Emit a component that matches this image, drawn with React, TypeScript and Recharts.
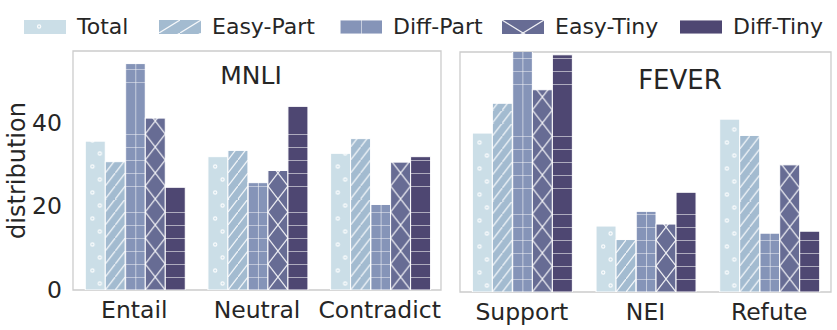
import { Bar, BarChart, ReferenceArea, XAxis, YAxis } from "recharts";

const mnliCats = ["Entail", "Neutral", "Contradict"];
const feverCats = ["Support", "NEI", "Refute"];
const seriesNames = ["Total", "Easy-Part", "Diff-Part", "Easy-Tiny", "Diff-Tiny"];

const mnliTotal = [35.5, 31.8, 32.6];
const mnliEasyPart = [30.6, 33.3, 36.1];
const mnliDiffPart = [54.0, 25.6, 20.4];
const mnliEasyTiny = [41.0, 28.5, 30.5];
const mnliDiffTiny = [24.5, 43.8, 31.8];

const feverTotal = [40.0, 16.6, 43.5];
const feverEasyPart = [47.5, 13.2, 39.4];
const feverDiffPart = [65.0, 20.3, 14.8];
const feverEasyTiny = [50.9, 17.1, 32.0];
const feverDiffTiny = [59.7, 25.1, 15.3];

const yTicks = [0, 20, 40];

const colors = ["#cbdee7", "#a3bbd0", "#8594b8", "#676c94", "#4e4772"];
const kinds = ["dots", "diag", "grid", "cross", "horiz"];
const keys = ["total", "easyPart", "diffPart", "easyTiny", "diffTiny"];
const frame = "#cccccc";
const ink = "#262626";
const font = "'DejaVu Sans', sans-serif";

function build(cats: string[], cols: number[][]) {
  return cats.map((cat, i) => {
    const row: Record<string, string | number> = { cat };
    keys.forEach((k, j) => (row[k] = cols[j][i]));
    return row;
  });
}

const mnliData = build(mnliCats, [mnliTotal, mnliEasyPart, mnliDiffPart, mnliEasyTiny, mnliDiffTiny]);
const feverData = build(feverCats, [feverTotal, feverEasyPart, feverDiffPart, feverEasyTiny, feverDiffTiny]);

const hatch = { stroke: "#ffffff", strokeWidth: 1.2, strokeOpacity: 0.9, fill: "none" };

function HatchPattern({ id, kind, x, y, w, color }: { id: string; kind: string; x: number; y: number; w: number; color: string }) {
  if (kind === "dots") {
    return (
      <pattern id={id} patternUnits="userSpaceOnUse" x={x} y={y} width={w} height={26}>
        <rect width={w} height={26} fill={color} />
        <circle cx={w * 0.36} cy={6.5} r={1.6} {...hatch} />
        <circle cx={w * 0.73} cy={19.5} r={1.6} {...hatch} />
      </pattern>
    );
  }
  if (kind === "diag") {
    const tw = w / 2;
    return (
      <pattern id={id} patternUnits="userSpaceOnUse" x={x} y={y} width={tw} height={13}>
        <rect width={tw} height={13} fill={color} />
        <path d={`M${-tw * 0.1} ${13 * 1.1} L${tw * 1.1} ${-13 * 0.1}`} {...hatch} />
      </pattern>
    );
  }
  if (kind === "grid") {
    const tw = w / 2;
    return (
      <pattern id={id} patternUnits="userSpaceOnUse" x={x} y={y} width={tw} height={13}>
        <rect width={tw} height={13} fill={color} />
        <path d={`M0 0 V13 M0 0 H${tw}`} {...hatch} />
      </pattern>
    );
  }
  if (kind === "cross") {
    return (
      <pattern id={id} patternUnits="userSpaceOnUse" x={x} y={y} width={w} height={26}>
        <rect width={w} height={26} fill={color} />
        <path d={`M0 0 L${w} 26 M${w} 0 L0 26`} {...hatch} />
      </pattern>
    );
  }
  return (
    <pattern id={id} patternUnits="userSpaceOnUse" x={x} y={y} width={w} height={13}>
      <rect width={w} height={13} fill={color} />
      <path d={`M0 0 H${w}`} {...hatch} />
    </pattern>
  );
}

function HatchBar(props: any) {
  const { x, y, width, height, index, kind, panel, color } = props;
  if (!height || height <= 0) return null;
  const id = `hb-${panel}-${kind}-${index}`;
  return (
    <g>
      <defs>
        <HatchPattern id={id} kind={kind} x={x} y={y + height} w={width} color={color} />
      </defs>
      <rect x={x} y={y} width={width} height={height} fill={`url(#${id})`} stroke="#ffffff" strokeWidth={1} />
    </g>
  );
}

function Panel({ data, panel, left, right, top, bottom, yMax, showY }: any) {
  return (
    <div style={{ position: "absolute", left: 0, top: 0 }}>
      <BarChart
        width={837}
        height={330}
        data={data}
        margin={{ top, right, left: showY ? 0 : left, bottom: 0 }}
        barCategoryGap="10%"
        barGap={0}
      >
        <XAxis
          dataKey="cat"
          height={bottom}
          tickLine={false}
          axisLine={false}
          tick={{ fill: ink, fontSize: 23.5 }}
          tickMargin={5}
          interval={0}
        />
        <YAxis
          type="number"
          domain={[0, yMax]}
          allowDataOverflow
          ticks={yTicks}
          width={showY ? left : 0}
          hide={!showY}
          tickLine={false}
          axisLine={false}
          tick={{ fill: ink, fontSize: 23.5 }}
          tickMargin={5}
          label={
            showY
              ? { value: "distribution", angle: -90, position: "insideLeft", offset: 16, style: { textAnchor: "middle", fontSize: 24, fill: ink } }
              : undefined
          }
        />
        <ReferenceArea y1={0} y2={yMax} fill="none" stroke={frame} strokeWidth={1.3} ifOverflow="visible" />
        {keys.map((k, j) => (
          <Bar
            key={k}
            dataKey={k}
            name={seriesNames[j]}
            fill={colors[j]}
            isAnimationActive={false}
            shape={(p: any) => <HatchBar {...p} kind={kinds[j]} panel={panel} color={colors[j]} />}
          />
        ))}
      </BarChart>
    </div>
  );
}

const legendPatchX = [24, 159, 340, 502, 680];

function Overlay() {
  return (
    <svg width={837} height={330} style={{ position: "absolute", left: 0, top: 0, pointerEvents: "none", fontFamily: font }}>
      <defs>
        {seriesNames.map((n, j) => (
          <HatchPattern key={n} id={`lg-${j}`} kind={kinds[j]} x={legendPatchX[j]} y={20} w={42} color={colors[j]} />
        ))}
      </defs>
      {seriesNames.map((n, j) => (
        <g key={n}>
          <rect x={legendPatchX[j]} y={20} width={42} height={14} fill={`url(#lg-${j})`} />
          <text x={legendPatchX[j] + 53} y={34} fontSize={22} fill={ink}>
            {n}
          </text>
        </g>
      ))}
      <text x={251} y={84} fontSize={25} fill={ink} textAnchor="middle">
        MNLI
      </text>
      <text x={680} y={89} fontSize={26} fill={ink} textAnchor="middle">
        FEVER
      </text>
    </svg>
  );
}

export default function App() {
  return (
    <div style={{ position: "absolute", left: 0, top: 0, width: 837, height: 330, background: "#fff", fontFamily: font }}>
      <Panel data={mnliData} panel="m" left={73} right={396} top={51} bottom={40} yMax={57} showY />
      <Panel data={feverData} panel="f" left={460} right={6} top={52} bottom={38} yMax={60.4} showY={false} />
      <Overlay />
    </div>
  );
}
